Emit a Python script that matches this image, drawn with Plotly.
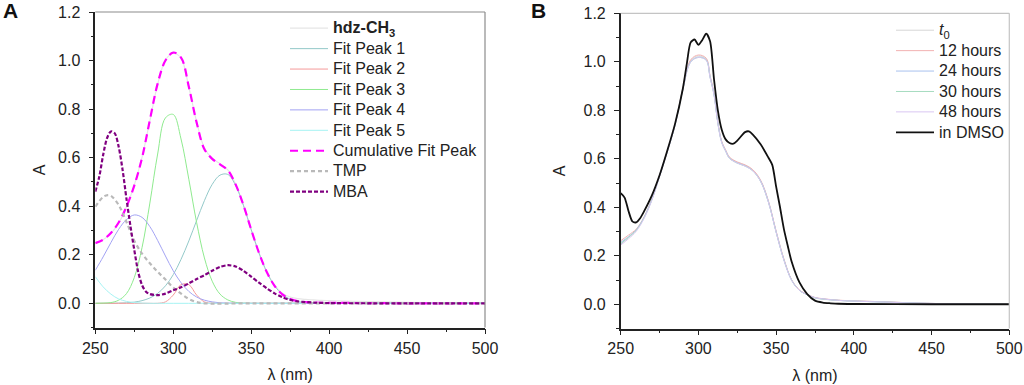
import plotly.graph_objects as go

# ---------------- Panel A data ----------------
wl_A = [250, 255, 260, 265, 270, 275, 280, 285, 290, 295, 300, 305, 310, 315, 320,
        325, 330, 335, 340, 345, 350, 355, 360, 365, 370, 375, 380, 385, 390, 395,
        400, 425, 450, 475, 500]
hdz = [0.250, 0.262, 0.288, 0.330, 0.398, 0.487, 0.602, 0.752, 0.902, 1.002, 1.030,
       1.010, 0.890, 0.748, 0.640, 0.597, 0.575, 0.550, 0.492, 0.405, 0.303, 0.207,
       0.130, 0.075, 0.042, 0.026, 0.019, 0.016, 0.014, 0.012, 0.011, 0.007, 0.004,
       0.002, 0.001]
peak1 = [0, 0, 0, 0.001, 0.002, 0.005, 0.011, 0.022, 0.041, 0.072, 0.118, 0.181, 0.257,
         0.341, 0.423, 0.490, 0.528, 0.531, 0.486, 0.404, 0.304, 0.208, 0.129, 0.072,
         0.037, 0.017, 0.007, 0.003, 0.001, 0, 0, 0, 0, 0, 0]
peak2 = [0, 0, 0, 0, 0, 0, 0, 0, 0, 0.006, 0.034, 0.077, 0.077, 0.034, 0.006, 0, 0, 0,
         0, 0, 0, 0, 0, 0, 0, 0, 0, 0, 0, 0, 0, 0, 0, 0, 0]
peak3 = [0, 0.001, 0.003, 0.013, 0.040, 0.106, 0.230, 0.413, 0.615, 0.764, 0.778, 0.677,
         0.511, 0.333, 0.187, 0.091, 0.038, 0.014, 0.004, 0.001, 0, 0, 0, 0, 0, 0, 0,
         0, 0, 0, 0, 0, 0, 0, 0]
peak4 = [0.136, 0.191, 0.250, 0.305, 0.345, 0.364, 0.354, 0.316, 0.259, 0.195, 0.134,
         0.085, 0.049, 0.026, 0.013, 0.006, 0.002, 0.001, 0, 0, 0, 0, 0, 0, 0, 0, 0, 0,
         0, 0, 0, 0, 0, 0, 0]
peak5 = [0.110, 0.068, 0.038, 0.018, 0.008, 0.003, 0.001, 0, 0, 0, 0, 0, 0, 0, 0, 0, 0,
         0, 0, 0, 0, 0, 0, 0, 0, 0, 0, 0, 0, 0, 0, 0, 0, 0, 0]
cumulative = [0.248, 0.262, 0.290, 0.333, 0.398, 0.485, 0.600, 0.755, 0.905, 1.000,
              1.033, 1.012, 0.892, 0.745, 0.635, 0.595, 0.572, 0.548, 0.490, 0.405,
              0.304, 0.208, 0.129, 0.072, 0.037, 0.018, 0.009, 0.005, 0.003, 0.002,
              0.002, 0.001, 0, 0, 0]

wl_tmp = [250, 255, 258, 260, 265, 270, 275, 280, 285, 290, 295, 300, 305, 310, 315,
          320, 350, 400, 450, 500]
tmp = [0.398, 0.438, 0.446, 0.443, 0.405, 0.335, 0.258, 0.205, 0.165, 0.130, 0.098,
       0.065, 0.040, 0.018, 0.005, 0, 0, 0, 0, 0]

wl_mba = [250, 252.5, 255, 257.5, 260, 262.5, 265, 267.5, 270, 272.5, 275, 277.5, 280,
          282.5, 285, 290, 295, 300, 305, 310, 315, 320, 325, 330, 335, 340, 345, 350,
          355, 360, 365, 370, 375, 380, 390, 400, 450, 500]
mba = [0.46, 0.52, 0.61, 0.68, 0.708, 0.70, 0.645, 0.55, 0.43, 0.32, 0.22, 0.13, 0.075,
       0.048, 0.038, 0.034, 0.040, 0.054, 0.066, 0.082, 0.100, 0.116, 0.134, 0.150,
       0.157, 0.152, 0.134, 0.110, 0.085, 0.062, 0.041, 0.025, 0.014, 0.008, 0.003,
       0.001, 0, 0]

# ---------------- Panel B data ----------------
wl_B = [250, 255, 260, 265, 270, 275, 280, 285, 290, 295, 300, 305, 307.5, 310, 312.5,
        315, 317.5, 320, 325, 330, 335, 340, 345, 350, 355, 360, 365, 370, 375, 380,
        390, 400, 420, 440, 460, 480, 500]
t0 = [0.248, 0.275, 0.305, 0.357, 0.432, 0.530, 0.632, 0.742, 0.890, 1.005, 1.024,
      1.012, 0.94, 0.87, 0.75, 0.67, 0.635, 0.605, 0.585, 0.573, 0.553, 0.51, 0.425,
      0.30, 0.185, 0.10, 0.058, 0.040, 0.027, 0.022, 0.016, 0.014, 0.010, 0.005, 0.002,
      0.001, 0]
h12 = [0.262, 0.285, 0.31, 0.36, 0.434, 0.531, 0.633, 0.743, 0.891, 1.008, 1.028, 1.015,
       0.943, 0.872, 0.752, 0.672, 0.637, 0.607, 0.587, 0.575, 0.555, 0.512, 0.427,
       0.302, 0.187, 0.101, 0.059, 0.041, 0.028, 0.023, 0.017, 0.014, 0.010, 0.005,
       0.002, 0.001, 0]
h24 = [0.255, 0.279, 0.307, 0.358, 0.431, 0.528, 0.630, 0.740, 0.887, 1.0, 1.019, 1.008,
       0.937, 0.867, 0.748, 0.668, 0.633, 0.603, 0.583, 0.571, 0.551, 0.508, 0.423,
       0.298, 0.183, 0.099, 0.057, 0.039, 0.027, 0.022, 0.016, 0.013, 0.009, 0.005,
       0.002, 0.001, 0]
h30 = [0.250, 0.276, 0.305, 0.356, 0.430, 0.528, 0.630, 0.739, 0.886, 0.999, 1.018,
       1.007, 0.936, 0.866, 0.747, 0.667, 0.632, 0.602, 0.582, 0.570, 0.550, 0.507,
       0.422, 0.297, 0.183, 0.099, 0.057, 0.039, 0.026, 0.021, 0.016, 0.013, 0.009,
       0.004, 0.002, 0.001, 0]
h48 = [0.244, 0.270, 0.301, 0.353, 0.428, 0.527, 0.629, 0.739, 0.886, 0.999, 1.018,
       1.006, 0.935, 0.865, 0.746, 0.666, 0.632, 0.602, 0.582, 0.570, 0.550, 0.507,
       0.422, 0.297, 0.182, 0.098, 0.057, 0.040, 0.027, 0.022, 0.016, 0.013, 0.009,
       0.004, 0.002, 0.001, 0]

wl_dmso = [250, 252.5, 255, 257.5, 260, 262.5, 265, 270, 275, 280, 285, 290, 292.5, 295,
           297.5, 300, 302.5, 305, 307.5, 310, 312.5, 315, 317.5, 320, 322.5, 325, 330,
           332.5, 335, 340, 345, 347.5, 350, 352.5, 355, 357.5, 360, 365, 370, 375, 380,
           385, 390, 400, 450, 500]
dmso = [0.458, 0.44, 0.385, 0.342, 0.338, 0.355, 0.383, 0.448, 0.532, 0.634, 0.745,
        0.89, 0.99, 1.08, 1.092, 1.07, 1.09, 1.116, 1.085, 0.93, 0.80, 0.72, 0.68, 0.665,
        0.662, 0.675, 0.71, 0.713, 0.70, 0.66, 0.605, 0.575, 0.485, 0.40, 0.31, 0.24,
        0.175, 0.09, 0.042, 0.015, 0.007, 0.004, 0.002, 0.001, 0, 0]

x_ticks = [250, 300, 350, 400, 450, 500]

FONT = "Arial, Liberation Sans, sans-serif"
TXT = "<span style='font-size:16px'>%s</span>"

fig = go.Figure()

def add(x, y, name, color, width=1.0, dash="solid", axis="A", legend="legend", smooth=1.0):
    fig.add_trace(go.Scatter(
        x=x, y=y, name=TXT % name, mode="lines",
        line=dict(color=color, width=width, dash=dash, shape="spline", smoothing=smooth),
        xaxis="x" if axis == "A" else "x2",
        yaxis="y" if axis == "A" else "y2",
        legend=legend,
    ))

add(wl_A, hdz, "<b>hdz-CH<sub>3</sub></b>", "#e6e6e6", 1.2)
add(wl_A, peak1, "Fit Peak 1", "#93c9c9", 1.0)
add(wl_A, peak2, "Fit Peak 2", "#f59a9a", 1.0)
add(wl_A, peak3, "Fit Peak 3", "#8fea8f", 1.0)
add(wl_A, peak4, "Fit Peak 4", "#a3a3f3", 1.0)
add(wl_A, peak5, "Fit Peak 5", "#a6f3f3", 1.0)
add(wl_A, cumulative, "Cumulative Fit Peak", "#ff00ff", 2.2, "8px,5px")
add(wl_tmp, tmp, "TMP", "#b9b9b9", 2.2, "4px,3px")
add(wl_mba, mba, "MBA", "#800080", 2.2, "4px,2px", smooth=0.8)

add(wl_B, t0, "<i>t</i><sub>0</sub>", "#d6d6d6", 1.0, axis="B", legend="legend2")
add(wl_B, h12, "12 hours", "#f2b2b2", 1.0, axis="B", legend="legend2")
add(wl_B, h24, "24 hours", "#a8c2ee", 1.0, axis="B", legend="legend2")
add(wl_B, h30, "30 hours", "#a6dcc0", 1.0, axis="B", legend="legend2")
add(wl_B, h48, "48 hours", "#d9c6f2", 1.0, axis="B", legend="legend2")
add(wl_dmso, dmso, "in DMSO", "#111111", 1.8, axis="B", legend="legend2", smooth=0.7)

TICKFONT = dict(family=FONT, size=16, color="#222")


def xaxis_cfg():
    return dict(range=[250, 500], tickvals=x_ticks, ticks="outside", ticklen=5,
                tickwidth=1, tickcolor="#222", showline=True, linecolor="#222",
                linewidth=1.5, showgrid=False, zeroline=False, automargin=False,
                tickfont=TICKFONT,
                minor=dict(tickvals=[275, 325, 375, 425, 475], ticks="outside",
                           ticklen=3, tickcolor="#222", tickwidth=1),
                title=dict(text="λ (nm)", font=TICKFONT, standoff=13))


def yaxis_cfg(standoff):
    return dict(range=[-0.1, 1.2], tick0=0, dtick=0.2, tickformat=".1f", ticks="outside",
                ticklen=5, tickwidth=1, tickcolor="#222", showline=True, linecolor="#222",
                linewidth=1.5, showgrid=False, zeroline=False, automargin=False,
                ticklabelstandoff=5, tickfont=TICKFONT,
                minor=dict(dtick=0.1, tick0=0, ticks="outside", ticklen=3,
                           tickcolor="#222", tickwidth=1),
                title=dict(text="A", font=TICKFONT, standoff=standoff))


LEG_FONT = dict(family=FONT, size=13.4, color="#222")

fig.update_layout(
    width=1024, height=385,
    margin=dict(l=0, r=0, t=0, b=0, autoexpand=False),
    paper_bgcolor="white", plot_bgcolor="white",
    font=dict(family=FONT, size=16, color="#222"),
    xaxis=dict(domain=[95.3 / 1024, 485 / 1024], anchor="y", **xaxis_cfg()),
    yaxis=dict(domain=[(385 - 327.6) / 385, (385 - 12) / 385], anchor="x",
               **yaxis_cfg(8)),
    xaxis2=dict(domain=[620.7 / 1024, 1009.3 / 1024], anchor="y2", **xaxis_cfg()),
    yaxis2=dict(domain=[(385 - 328.5) / 385, (385 - 13.3) / 385], anchor="x2",
                **yaxis_cfg(14)),
    legend=dict(x=285 / 1024, y=1 - 13 / 385, xanchor="left", yanchor="top",
                bgcolor="rgba(0,0,0,0)", font=LEG_FONT, tracegroupgap=0, itemwidth=38),
    legend2=dict(x=891 / 1024, y=1 - 15 / 385, xanchor="left", yanchor="top",
                 bgcolor="rgba(0,0,0,0)", font=LEG_FONT, tracegroupgap=0, itemwidth=38),
    showlegend=True,
    annotations=[
        dict(text="<b>A</b>", x=1 / 1024, y=1 - 10 / 385, xref="paper", yref="paper",
             xanchor="left", yanchor="middle", showarrow=False,
             font=dict(family=FONT, size=21, color="#111")),
        dict(text="<b>B</b>", x=529 / 1024, y=1 - 10 / 385, xref="paper", yref="paper",
             xanchor="left", yanchor="middle", showarrow=False,
             font=dict(family=FONT, size=21, color="#111")),
    ],
    shapes=[
        dict(type="line", xref="x domain", yref="y domain", x0=0, x1=1, y0=1, y1=1,
             line=dict(color="#8c8c8c", width=1.2)),
        dict(type="line", xref="x domain", yref="y domain", x0=1, x1=1, y0=0, y1=1,
             line=dict(color="#8c8c8c", width=1.2)),
        dict(type="line", xref="x2 domain", yref="y2 domain", x0=0, x1=1, y0=1, y1=1,
             line=dict(color="#c4c4c4", width=1.2)),
        dict(type="line", xref="x2 domain", yref="y2 domain", x0=1, x1=1, y0=0, y1=1,
             line=dict(color="#c4c4c4", width=1.2)),
    ],
)

fig.write_html("out.html", config={"displayModeBar": False},
               post_script="document.body.style.margin='0px';")
